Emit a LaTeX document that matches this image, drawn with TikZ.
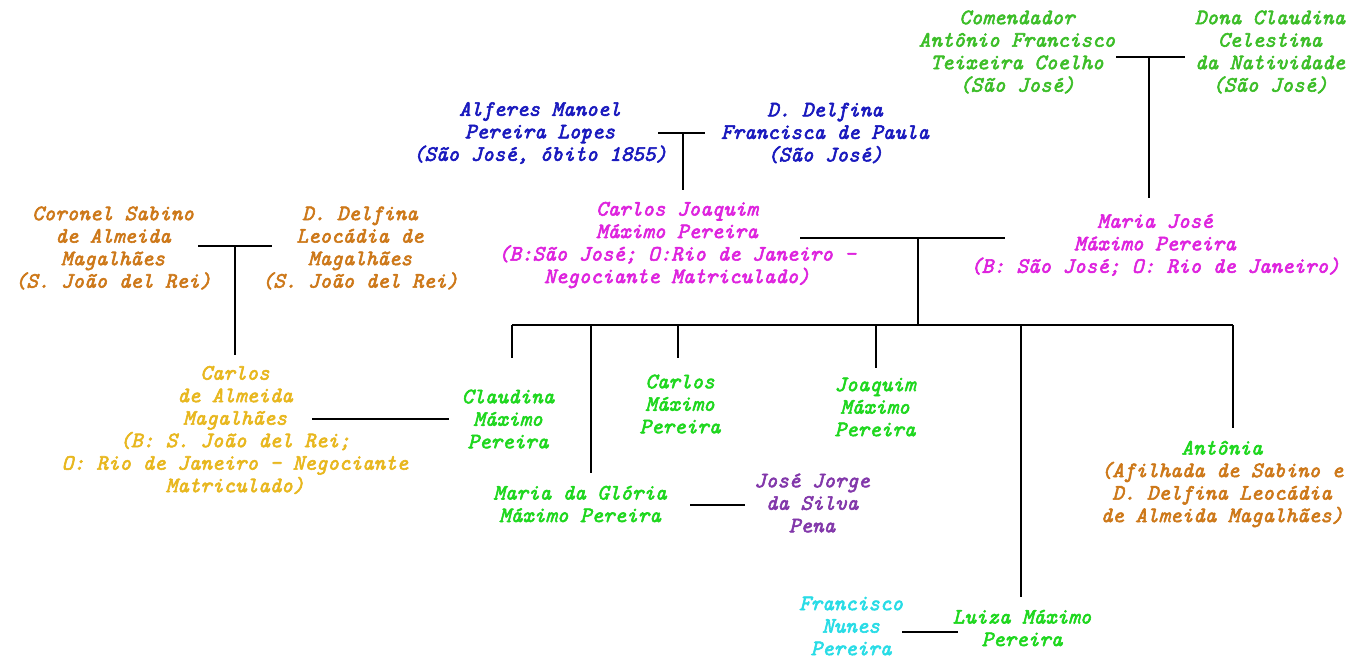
\documentclass[tikz,border=0pt]{standalone}
\usepackage{fontspec}
\newfontfamily\famtt{lmmono10-italic.otf}[FakeBold=2.6]
\definecolor{tgreen}{RGB}{60,190,40}
\definecolor{cgreen}{RGB}{30,215,30}
\definecolor{nblue}{RGB}{25,25,190}
\definecolor{orng}{RGB}{205,120,25}
\definecolor{gold}{RGB}{232,183,30}
\definecolor{mgnt}{RGB}{222,35,222}
\definecolor{purp}{RGB}{130,55,170}
\definecolor{cyn}{RGB}{40,220,230}
\begin{document}
\begin{tikzpicture}[x=1pt,y=-1pt,
  every node/.style={font=\famtt\fontsize{22}{22.5}\selectfont, align=center, inner sep=0pt},
  link/.style={line width=1.3pt, black}]
\useasboundingbox[fill=white] (0,0) rectangle (1370,659);
% persons
\node[text=tgreen] (com) at (1017,52) {Comendador\\Antônio Francisco\\Teixeira Coelho\\(São José)};
\node[text=tgreen] (dcl) at (1270,52) {Dona Claudina\\Celestina\\da Natividade\\(São José)};
\node[text=nblue] (alf) at (540,133) {Alferes Manoel\\Pereira Lopes\\(São José, óbito 1855)};
\node[text=nblue] (dfp) at (825,133) {D. Delfina\\Francisca de Paula\\(São José)};
\node[text=orng] (cs) at (113,248) {Coronel Sabino\\de Almeida\\Magalhães\\(S. João del Rei)};
\node[text=orng] (ddl) at (360,248) {D. Delfina\\Leocádia de\\Magalhães\\(S. João del Rei)};
\node[text=mgnt] (cj) at (677,245) {Carlos Joaquim\\Máximo Pereira\\(B:São José; O:Rio de Janeiro –\\Negociante Matriculado)};
\node[text=mgnt] (mj) at (1155,245) {Maria José\\Máximo Pereira\\(B: São José; O: Rio de Janeiro)};
\node[text=gold] (cam) at (235,430) {Carlos\\de Almeida\\Magalhães\\(B: S. João del Rei;\\O: Rio de Janeiro – Negociante\\Matriculado)};
\node[text=cgreen] (cla) at (508,419) {Claudina\\Máximo\\Pereira};
\node[text=cgreen] (cmp) at (680,404) {Carlos\\Máximo\\Pereira};
\node[text=cgreen] (jmp) at (875,407) {Joaquim\\Máximo\\Pereira};
\node[text=cgreen] (mg) at (580,504) {Maria da Glória\\Máximo Pereira};
\node[text=purp] (jj) at (812,503) {José Jorge\\da Silva\\Pena};
\node[text=orng] (ant) at (1222,484) {\textcolor{cgreen}{Antônia}\\(Afilhada de Sabino e\\D. Delfina Leocádia\\de Almeida Magalhães)};
\node[text=cyn] (fnp) at (851,626) {Francisco\\Nunes\\Pereira};
\node[text=cgreen] (lmp) at (1022,628) {Luiza Máximo\\Pereira};
% junction points
\coordinate (c1a) at (1116,57); \coordinate (c1b) at (1185,57); \coordinate (c1m) at (1149,57); \coordinate (c1d) at (1149,198);
\coordinate (c2a) at (658,133); \coordinate (c2b) at (705,133); \coordinate (c2m) at (683,133); \coordinate (c2d) at (683,190);
\coordinate (c3a) at (198,246); \coordinate (c3b) at (272,246); \coordinate (c3m) at (235,246); \coordinate (c3d) at (235,355);
\coordinate (c4a) at (800,238); \coordinate (c4b) at (1005,238); \coordinate (c4m) at (918,238);
\coordinate (busm) at (918,325); \coordinate (busl) at (512,325); \coordinate (busr) at (1233,325);
\coordinate (k1) at (512,358); \coordinate (k2) at (591,473); \coordinate (k3) at (678,358);
\coordinate (k4) at (876,368); \coordinate (k5) at (1021,597); \coordinate (k6) at (1233,428);
\coordinate (c5a) at (312,419); \coordinate (c5b) at (449,419);
\coordinate (c6a) at (690,505); \coordinate (c6b) at (745,505);
\coordinate (c7a) at (902,632); \coordinate (c7b) at (958,632);
% connectors
\draw[link] (c1a) -- (c1b); \draw[link] (c1m) -- (c1d);
\draw[link] (c2a) -- (c2b); \draw[link] (c2m) -- (c2d);
\draw[link] (c3a) -- (c3b); \draw[link] (c3m) -- (c3d);
\draw[link] (c4a) -- (c4b); \draw[link] (c4m) -- (busm);
\draw[link] (busl) -- (busr);
\draw[link] (busl) -- (k1);
\draw[link] (k2 |- busl) -- (k2);
\draw[link] (k3 |- busl) -- (k3);
\draw[link] (k4 |- busl) -- (k4);
\draw[link] (k5 |- busl) -- (k5);
\draw[link] (busr) -- (k6);
\draw[link] (c5a) -- (c5b);
\draw[link] (c6a) -- (c6b);
\draw[link] (c7a) -- (c7b);
\end{tikzpicture}
\end{document}
